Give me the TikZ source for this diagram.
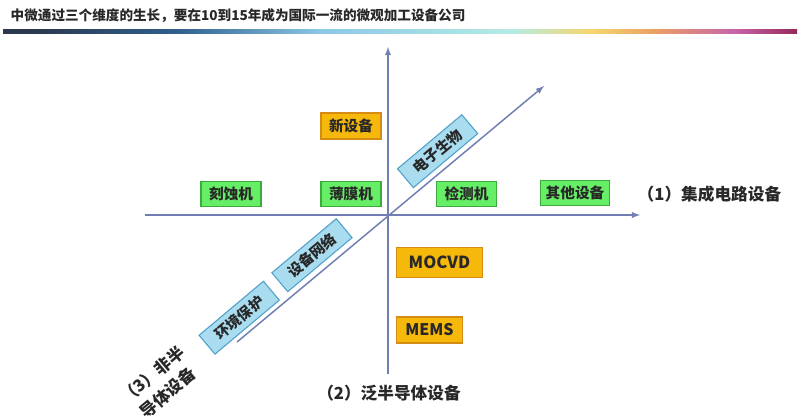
\documentclass[tikz,border=0pt]{standalone}
\usepackage{fontspec}
\setmainfont{Noto Sans CJK SC}
\usepackage{tikz}
\usetikzlibrary{arrows, positioning}
\usepackage{xcolor}

\definecolor{axiscol}{RGB}{112,126,178}
\definecolor{greenfill}{RGB}{102,238,102}
\definecolor{greenline}{RGB}{60,170,60}
\definecolor{orangefill}{RGB}{246,184,10}
\definecolor{orangeline}{RGB}{214,140,20}
\definecolor{bluefill}{RGB}{170,220,240}
\definecolor{blueline}{RGB}{80,160,200}
\definecolor{textcol}{RGB}{40,40,40}
\definecolor{bar0}{RGB}{44,56,80}
\definecolor{bar1}{RGB}{48,96,140}
\definecolor{bar2}{RGB}{140,200,230}
\definecolor{bar3}{RGB}{180,235,228}
\definecolor{bar4}{RGB}{245,215,110}
\definecolor{bar5}{RGB}{235,160,100}
\definecolor{bar6}{RGB}{200,100,170}
\definecolor{bar7}{RGB}{150,40,90}

% colours sit in 25bp..75bp, the part that covers the path
\pgfdeclarehorizontalshading{titlebar}{100bp}{color(0bp)=(bar0); color(27bp)=(bar0); color(36bp)=(bar1); color(45bp)=(bar2); color(57bp)=(bar3); color(62bp)=(bar4); color(66bp)=(bar5); color(71bp)=(bar6); color(75bp)=(bar7); color(100bp)=(bar7)}

\tikzset{
  axis/.style={draw=axiscol, line width=1.1pt},
  greenbox/.style={draw=greenline, fill=greenfill, line width=0.8pt, minimum width=45pt, minimum height=18.5pt, inner xsep=4pt, font=\bfseries\fontsize{11}{13}\selectfont, text=textcol},
  orangebox/.style={draw=orangeline, fill=orangefill, line width=0.8pt, minimum height=19.5pt, inner xsep=4pt, font=\bfseries\fontsize{11}{13}\selectfont, text=textcol},
  bluebox/.style={draw=blueline, fill=bluefill, line width=0.8pt, minimum width=63pt, minimum height=18.5pt, inner xsep=4pt, rotate=40, font=\bfseries\fontsize{11}{13}\selectfont, text=textcol},
  axislabel/.style={font=\bfseries\fontsize{12.5}{15}\selectfont, text=textcol}
}

\begin{document}
\begin{tikzpicture}[x=0.75pt,y=0.75pt,yscale=-1,xscale=1]
\useasboundingbox (0,0) rectangle (800,419);

% Title
\draw (6,16) node [anchor=west, font=\bfseries\fontsize{10.2}{13}\selectfont, text=textcol] (title) {中微通过三个维度的生长，要在10到15年成为国际一流的微观加工设备公司};
%Shape: Rectangle (gradient bar)
\fill [shading=titlebar] (3,29) rectangle (797,33);

% Axis ends
\coordinate (o) at (388,215);
\coordinate (xleft) at (145,215);
\coordinate (xright) at (640,215);
\coordinate (ytop) at (388,47);
\coordinate (ybottom) at (388,374);
\coordinate (dlow) at (237,342);
\coordinate (dhigh) at (544,86);

%Straight Lines
\draw [axis, -latex] (xleft) -- (xright);
\draw [axis, -latex] (ybottom) -- (ytop);
\draw [axis, -latex] (dlow) -- (dhigh);

% Green boxes
\draw (231,194) node [greenbox] (etch) {刻蚀机};
\draw (351,194) node [greenbox] (film) {薄膜机};
\draw (466.5,194) node [greenbox] (inspect) {检测机};
\draw (575,193) node [greenbox] (other) {其他设备};

% Orange boxes
\draw (351,126) node [orangebox, minimum width=45pt] (newequip) {新设备};
\draw (439.5,262.5) node [orangebox, minimum width=64pt, minimum height=22pt, font=\bfseries\fontsize{12.5}{15}\selectfont] (mocvd) {MOCVD};
\draw (429.5,330) node [orangebox, minimum width=49pt, font=\bfseries\fontsize{12}{14}\selectfont] (mems) {MEMS};

% Blue boxes
\draw (437.6,151.2) node [bluebox] (bio) {电子生物};
\draw (312,255.2) node [bluebox] (network) {设备网络};
\draw (239.2,317.7) node [bluebox] (env) {环境保护};

% Axis labels
\draw (633,194) node [axislabel, anchor=west] (icaxis) {（1）集成电路设备};
\draw (389,393) node [axislabel] (panaxis) {（2）泛半导体设备};
\draw (160,384) node [axislabel, rotate=40, align=left, font=\bfseries\fontsize{12.5}{17.5}\selectfont] (nonaxis) {（3）非半\\\hspace*{4pt}导体设备};

\end{tikzpicture}
\end{document}
